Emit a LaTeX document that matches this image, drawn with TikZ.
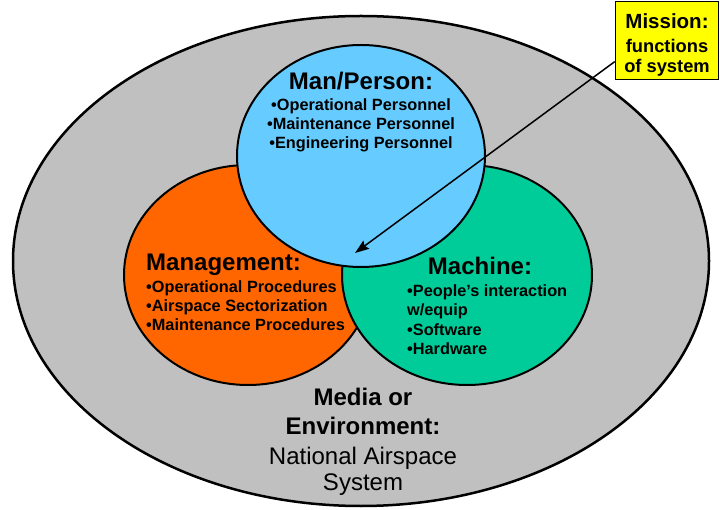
\documentclass[tikz,border=0pt]{standalone}
\usepackage{fontspec}
\setmainfont{Liberation Sans}
\usetikzlibrary{shapes.geometric,arrows.meta}
\definecolor{envgray}{HTML}{C0C0C0}
\definecolor{manblue}{HTML}{66CCFF}
\definecolor{mgmtorange}{HTML}{FF6600}
\definecolor{machgreen}{HTML}{00CC99}
\definecolor{missyellow}{HTML}{FFFF00}
\tikzset{
  blob/.style={ellipse, draw=black, line width=2pt, inner sep=0pt},
  ttl/.style={inner sep=0pt, font=\bfseries\fontsize{24}{28}\selectfont},
  itm/.style={inner sep=0pt, font=\bfseries\fontsize{16.3}{19}\selectfont},
  plain/.style={inner sep=0pt, font=\fontsize{24}{28}\selectfont},
  msn/.style={inner sep=0pt, font=\bfseries\fontsize{18.3}{22}\selectfont},
}
\begin{document}
\begin{tikzpicture}[x=1pt,y=-1pt]
\useasboundingbox (0,0) rectangle (720,510);
% shapes
\node[blob, fill=envgray, line width=2.5pt, minimum width=696pt, minimum height=490pt] (env) at (361,261) {};
\node[blob, fill=mgmtorange, minimum width=248pt, minimum height=220pt] (mgmt) at (248,275) {};
\node[blob, fill=machgreen, minimum width=250pt, minimum height=220pt] (mach) at (467,275) {};
\node[blob, fill=manblue, minimum width=248pt, minimum height=222pt] (man) at (361,156) {};
\node[draw=black, line width=1.5pt, fill=missyellow, minimum width=103pt, minimum height=78pt, inner sep=0pt] (mission) at (667,40.5) {};
% Man/Person
\node[ttl, anchor=base] (manT) at (361,90) {Man/Person:};
\node[itm, anchor=base] (man1) at (361,111) {•Operational Personnel};
\node[itm, anchor=base] (man2) at (361,130) {•Maintenance Personnel};
\node[itm, anchor=base] (man3) at (361,148.5) {•Engineering Personnel};
% Management
\node[ttl, anchor=base west] (mgmtT) at (146,271) {Management:};
\node[itm, anchor=base west] (mgmt1) at (146,292.5) {•Operational Procedures};
\node[itm, anchor=base west] (mgmt2) at (146,311.5) {•Airspace Sectorization};
\node[itm, anchor=base west] (mgmt3) at (146,330.5) {•Maintenance Procedures};
% Machine
\node[ttl, anchor=base] (machT) at (480,275) {Machine:};
\node[itm, anchor=base west] (mach1) at (407,296.7) {•People’s interaction};
\node[itm, anchor=base west] (mach2) at (407,316) {w/equip};
\node[itm, anchor=base west] (mach3) at (407,335.5) {•Software};
\node[itm, anchor=base west] (mach4) at (407,355) {•Hardware};
% Environment
\node[ttl, anchor=base] (env1) at (363,406) {Media or};
\node[ttl, anchor=base] (env2) at (363,434) {Environment:};
\node[plain, anchor=base] (env3) at (363,464) {National Airspace};
\node[plain, anchor=base] (env4) at (363,490.5) {System};
% Mission
\node[msn, anchor=base, font=\bfseries\fontsize{20.5}{22}\selectfont] (ms1) at (667,28.3) {Mission:};
\node[msn, anchor=base] (ms2) at (667,53) {functions};
\node[msn, anchor=base] (ms3) at (667,72.7) {of system};
% arrow
\coordinate (tip) at (355,253);
\draw[line width=1.5pt, -{Stealth[length=14pt,width=10pt,inset=2pt]}] (mission.202.5) -- (tip);
\end{tikzpicture}
\end{document}
